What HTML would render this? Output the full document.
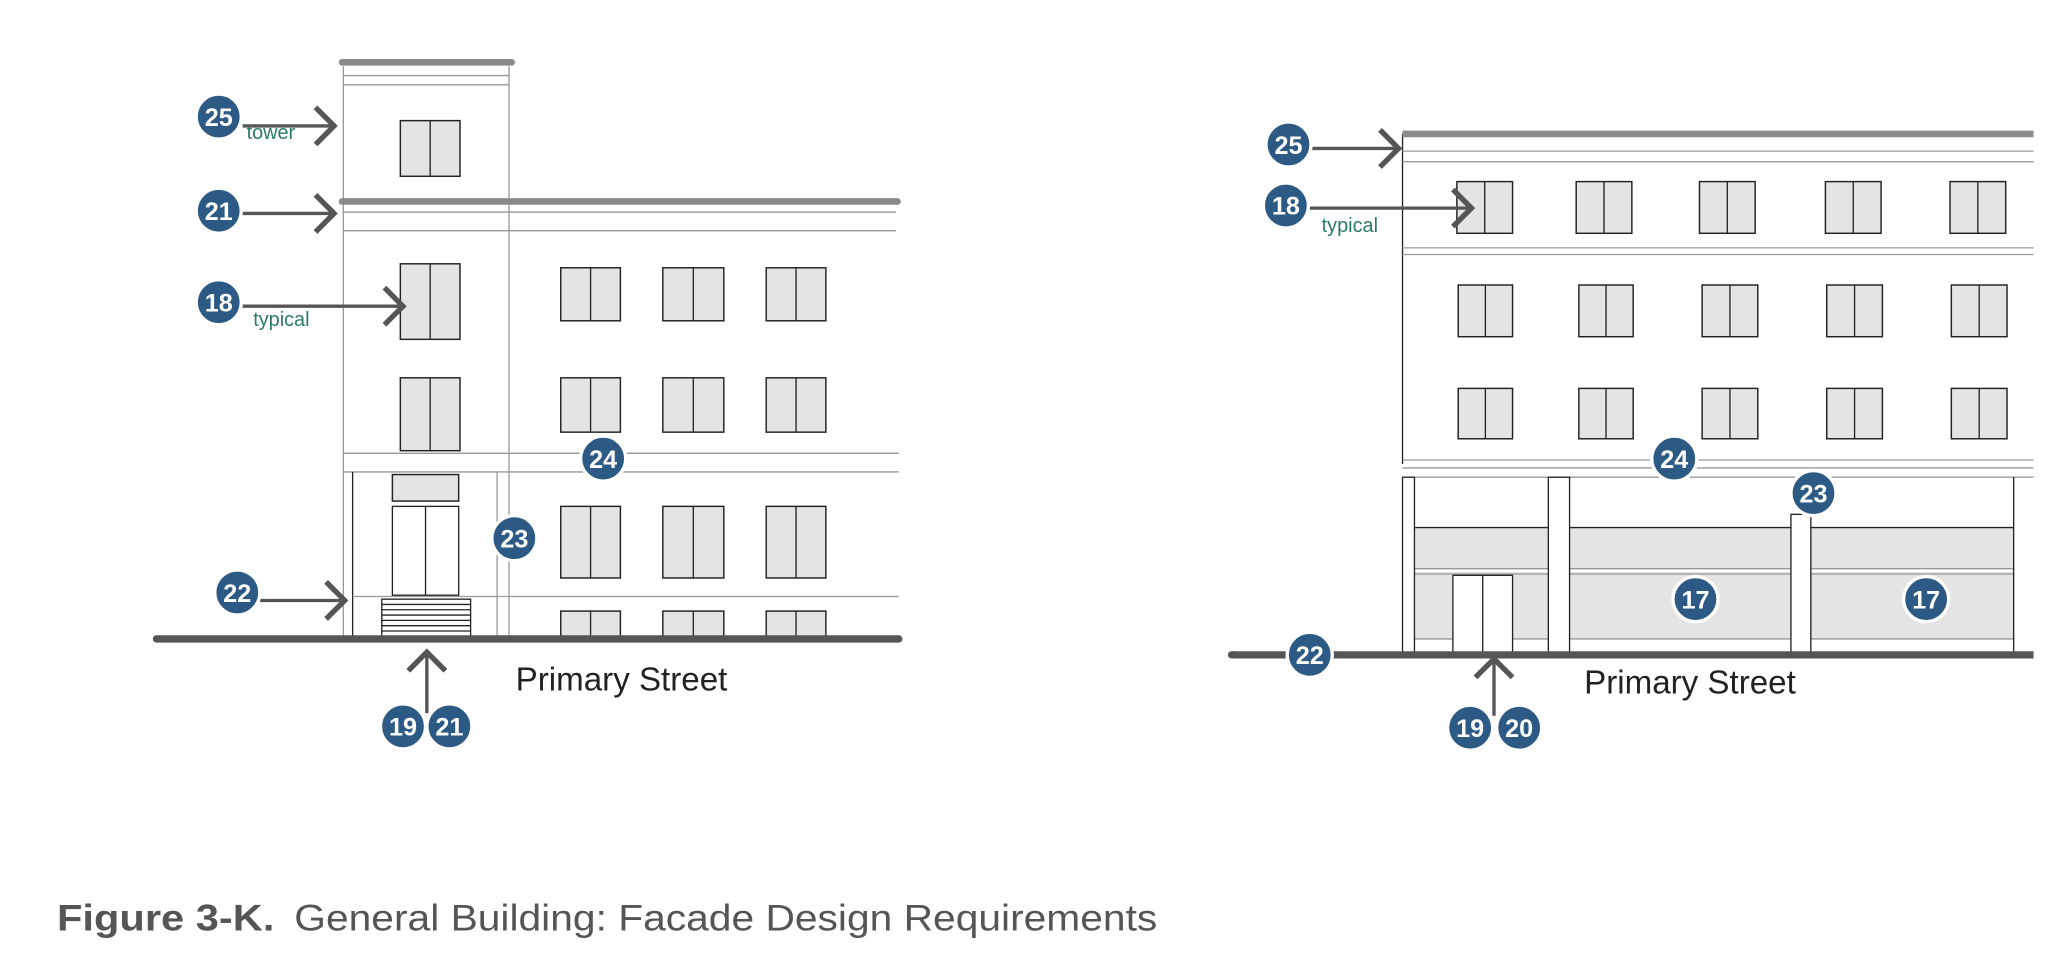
<!DOCTYPE html>
<html><head><style>html,body{margin:0;padding:0;background:#fff}svg{display:block}</style></head><body>
<svg width="2068" height="969" viewBox="0 0 1560 731" preserveAspectRatio="none" xmlns="http://www.w3.org/2000/svg">
<defs>
<style>
.w{fill:#e4e4e4;stroke:#222;stroke-width:1.1}
.t{stroke:#999;stroke-width:1;fill:none}
.k{stroke:#222;stroke-width:1;fill:none}
.cap{stroke:#8a8a8a;stroke-width:5;stroke-linecap:round}
.gr{stroke:#555;stroke-width:5.5;stroke-linecap:round}
.ar{stroke:#555;stroke-width:2.5;fill:none}
.ah{stroke:#555;stroke-width:4;fill:none}
.c{fill:#2d5a85;stroke:#fff;stroke-width:2.5}
.n{fill:#fff;font-family:"Liberation Sans Narrow","Liberation Sans",sans-serif;font-weight:bold;font-size:19px;text-anchor:middle}
.g{fill:#2c7a6b;font-family:"Liberation Sans",sans-serif;font-size:15px}
.ps{fill:#222;font-family:"Liberation Sans",sans-serif;font-size:25px}
</style>
</defs>
<!-- LEFT BUILDING -->
<line class="t" x1="259" y1="50" x2="259" y2="480"/>
<line class="t" x1="384" y1="50" x2="384" y2="480"/>
<line class="t" x1="259" y1="57" x2="384" y2="57"/>
<line class="t" x1="259" y1="64" x2="384" y2="64"/>
<line class="cap" x1="258" y1="47" x2="386" y2="47"/>
<rect class="w" x="302" y="91" width="45" height="42"/><line class="k" x1="324.5" y1="91" x2="324.5" y2="133"/>
<line class="cap" x1="258" y1="152" x2="677" y2="152"/>
<line class="t" x1="259" y1="160" x2="676" y2="160"/>
<line class="t" x1="259" y1="174" x2="676" y2="174"/>
<g>
<rect class="w" x="302" y="199" width="45" height="57"/><line class="k" x1="324.5" y1="199" x2="324.5" y2="256"/>
<rect class="w" x="302" y="285" width="45" height="55"/><line class="k" x1="324.5" y1="285" x2="324.5" y2="340"/>
</g>
<g>
<rect class="w" x="423" y="202" width="45" height="40"/><line class="k" x1="445.5" y1="202" x2="445.5" y2="242"/>
<rect class="w" x="500" y="202" width="46" height="40"/><line class="k" x1="523" y1="202" x2="523" y2="242"/>
<rect class="w" x="578" y="202" width="45" height="40"/><line class="k" x1="600.5" y1="202" x2="600.5" y2="242"/>
<rect class="w" x="423" y="285" width="45" height="41"/><line class="k" x1="445.5" y1="285" x2="445.5" y2="326"/>
<rect class="w" x="500" y="285" width="46" height="41"/><line class="k" x1="523" y1="285" x2="523" y2="326"/>
<rect class="w" x="578" y="285" width="45" height="41"/><line class="k" x1="600.5" y1="285" x2="600.5" y2="326"/>
<rect class="w" x="423" y="382" width="45" height="54"/><line class="k" x1="445.5" y1="382" x2="445.5" y2="436"/>
<rect class="w" x="500" y="382" width="46" height="54"/><line class="k" x1="523" y1="382" x2="523" y2="436"/>
<rect class="w" x="578" y="382" width="45" height="54"/><line class="k" x1="600.5" y1="382" x2="600.5" y2="436"/>
<rect class="w" x="423" y="461" width="45" height="20"/><line class="k" x1="445.5" y1="461" x2="445.5" y2="481"/>
<rect class="w" x="500" y="461" width="46" height="20"/><line class="k" x1="523" y1="461" x2="523" y2="481"/>
<rect class="w" x="578" y="461" width="45" height="20"/><line class="k" x1="600.5" y1="461" x2="600.5" y2="481"/>
</g>
<line class="t" x1="259" y1="342" x2="678" y2="342"/>
<line class="t" x1="259" y1="356" x2="678" y2="356"/>
<line class="k" x1="266" y1="356" x2="266" y2="480"/>
<line class="t" x1="375" y1="356" x2="375" y2="480"/>
<line class="t" x1="266" y1="450" x2="678" y2="450"/>
<rect class="w" x="296" y="358" width="50" height="20"/>
<rect x="296" y="382" width="50" height="67" fill="#fff" stroke="#222" stroke-width="1"/><line class="k" x1="321" y1="382" x2="321" y2="449"/>
<rect x="288" y="452" width="67" height="28" fill="#fff" stroke="#222" stroke-width="1"/>
<g class="k"><line x1="288" y1="456" x2="355" y2="456"/><line x1="288" y1="460" x2="355" y2="460"/><line x1="288" y1="464" x2="355" y2="464"/><line x1="288" y1="468" x2="355" y2="468"/><line x1="288" y1="472" x2="355" y2="472"/><line x1="288" y1="476" x2="355" y2="476"/></g>
<line class="gr" x1="118" y1="482" x2="678" y2="482"/>
<text class="ps" x="389" y="521">Primary Street</text>
<!-- left callouts -->
<line class="ar" x1="183" y1="95" x2="252" y2="95"/><polyline class="ah" points="238,81 252,95 238,109"/>
<text class="g" x="186" y="105">tower</text>
<circle class="c" cx="165" cy="88" r="17"/><text class="n" x="165" y="95">25</text>
<line class="ar" x1="183" y1="161" x2="252" y2="161"/><polyline class="ah" points="238,147 252,161 238,175"/>
<circle class="c" cx="165" cy="159" r="17"/><text class="n" x="165" y="166">21</text>
<line class="ar" x1="183" y1="231" x2="304" y2="231"/><polyline class="ah" points="290,217 304,231 290,245"/>
<text class="g" x="191" y="246">typical</text>
<circle class="c" cx="165" cy="228" r="17"/><text class="n" x="165" y="235">18</text>
<line class="ar" x1="196" y1="453" x2="260" y2="453"/><polyline class="ah" points="246,439 260,453 246,467"/>
<circle class="c" cx="179" cy="447" r="17"/><text class="n" x="179" y="454">22</text>
<circle class="c" cx="455" cy="346" r="17"/><text class="n" x="455" y="353">24</text>
<circle class="c" cx="388" cy="406" r="17"/><text class="n" x="388" y="413">23</text>
<line class="ar" x1="322" y1="538" x2="322" y2="492"/><polyline class="ah" points="308,506 322,492 336,506"/>
<circle class="c" cx="304" cy="548" r="17"/><text class="n" x="304" y="555">19</text>
<circle class="c" cx="339" cy="548" r="17"/><text class="n" x="339" y="555">21</text>
<!-- RIGHT BUILDING -->
<line class="k" x1="1058" y1="101" x2="1058" y2="350"/>
<line class="t" x1="1058" y1="114" x2="1534" y2="114"/>
<line class="t" x1="1058" y1="122" x2="1534" y2="122"/>
<line class="cap" x1="1058" y1="101" x2="1534" y2="101" style="stroke-linecap:butt"/>
<g>
<rect class="w" x="1099" y="137" width="42" height="39"/><line class="k" x1="1120" y1="137" x2="1120" y2="176"/>
<rect class="w" x="1189" y="137" width="42" height="39"/><line class="k" x1="1210" y1="137" x2="1210" y2="176"/>
<rect class="w" x="1282" y="137" width="42" height="39"/><line class="k" x1="1303" y1="137" x2="1303" y2="176"/>
<rect class="w" x="1377" y="137" width="42" height="39"/><line class="k" x1="1398" y1="137" x2="1398" y2="176"/>
<rect class="w" x="1471" y="137" width="42" height="39"/><line class="k" x1="1492" y1="137" x2="1492" y2="176"/>
<rect class="w" x="1100" y="215" width="41" height="39"/><line class="k" x1="1120.5" y1="215" x2="1120.5" y2="254"/>
<rect class="w" x="1191" y="215" width="41" height="39"/><line class="k" x1="1211.5" y1="215" x2="1211.5" y2="254"/>
<rect class="w" x="1284" y="215" width="42" height="39"/><line class="k" x1="1305" y1="215" x2="1305" y2="254"/>
<rect class="w" x="1378" y="215" width="42" height="39"/><line class="k" x1="1399" y1="215" x2="1399" y2="254"/>
<rect class="w" x="1472" y="215" width="42" height="39"/><line class="k" x1="1493" y1="215" x2="1493" y2="254"/>
<rect class="w" x="1100" y="293" width="41" height="38"/><line class="k" x1="1120.5" y1="293" x2="1120.5" y2="331"/>
<rect class="w" x="1191" y="293" width="41" height="38"/><line class="k" x1="1211.5" y1="293" x2="1211.5" y2="331"/>
<rect class="w" x="1284" y="293" width="42" height="38"/><line class="k" x1="1305" y1="293" x2="1305" y2="331"/>
<rect class="w" x="1378" y="293" width="42" height="38"/><line class="k" x1="1399" y1="293" x2="1399" y2="331"/>
<rect class="w" x="1472" y="293" width="42" height="38"/><line class="k" x1="1493" y1="293" x2="1493" y2="331"/>
</g>
<line class="t" x1="1058" y1="187" x2="1534" y2="187"/>
<line class="t" x1="1058" y1="192" x2="1534" y2="192"/>
<line class="t" x1="1058" y1="347" x2="1534" y2="347"/>
<line class="t" x1="1058" y1="353" x2="1534" y2="353"/>
<line class="t" x1="1058" y1="360" x2="1534" y2="360"/>
<!-- storefront -->
<g>
<rect x="1067" y="398" width="101" height="84" fill="#e4e4e4"/>
<rect x="1184" y="398" width="167" height="84" fill="#e4e4e4"/>
<rect x="1366" y="398" width="153" height="84" fill="#e4e4e4"/>
<line class="k" x1="1067" y1="398" x2="1519" y2="398"/>
<line x1="1067" y1="430" x2="1519" y2="430" stroke="#fff" stroke-width="3"/>
<line class="t" x1="1067" y1="429" x2="1519" y2="429"/>
<line class="t" x1="1067" y1="433" x2="1519" y2="433"/>
<line class="t" x1="1067" y1="482" x2="1519" y2="482"/>
</g>
<rect x="1058" y="360" width="9" height="134" fill="#fff" stroke="#222" stroke-width="1"/>
<rect x="1168" y="360" width="16" height="134" fill="#fff" stroke="#222" stroke-width="1"/>
<rect x="1351" y="388" width="15" height="106" fill="#fff" stroke="#222" stroke-width="1"/>
<line class="k" x1="1519" y1="360" x2="1519" y2="494"/>
<rect x="1096" y="434" width="45" height="60" fill="#fff" stroke="#222" stroke-width="1"/><line class="k" x1="1118.5" y1="434" x2="1118.5" y2="494"/>
<line class="gr" x1="929" y1="494" x2="1534" y2="494" style="stroke-linecap:butt"/>
<line class="gr" x1="929" y1="494" x2="932" y2="494"/>
<text class="ps" x="1195" y="523">Primary Street</text>
<!-- right callouts -->
<line class="ar" x1="988" y1="112" x2="1055" y2="112"/><polyline class="ah" points="1041,98 1055,112 1041,126"/>
<circle class="c" cx="972" cy="109" r="17"/><text class="n" x="972" y="116">25</text>
<line class="ar" x1="987" y1="157" x2="1110" y2="157"/><polyline class="ah" points="1096,143 1110,157 1096,171"/>
<text class="g" x="997" y="175">typical</text>
<circle class="c" cx="970" cy="155" r="17"/><text class="n" x="970" y="162">18</text>
<circle class="c" cx="1263" cy="346" r="17"/><text class="n" x="1263" y="353">24</text>
<circle class="c" cx="1368" cy="372" r="17"/><text class="n" x="1368" y="379">23</text>
<circle class="c" cx="1279" cy="452" r="17"/><text class="n" x="1279" y="459">17</text>
<circle class="c" cx="1453" cy="452" r="17"/><text class="n" x="1453" y="459">17</text>
<circle class="c" cx="988" cy="494" r="17"/><text class="n" x="988" y="501">22</text>
<line class="ar" x1="1127" y1="540" x2="1127" y2="497"/><polyline class="ah" points="1113,511 1127,497 1141,511"/>
<circle class="c" cx="1109" cy="549" r="17"/><text class="n" x="1109" y="556">19</text>
<circle class="c" cx="1146" cy="549" r="17"/><text class="n" x="1146" y="556">20</text>
<!-- caption -->
<text x="43" y="702" font-family="Liberation Sans, sans-serif" font-size="28" fill="#555" font-weight="bold" textLength="164" lengthAdjust="spacingAndGlyphs">Figure 3-K.</text>
<text x="222" y="702" font-family="Liberation Sans, sans-serif" font-size="28" fill="#555" textLength="651" lengthAdjust="spacingAndGlyphs">General Building: Facade Design Requirements</text>
</svg>
</body></html>
